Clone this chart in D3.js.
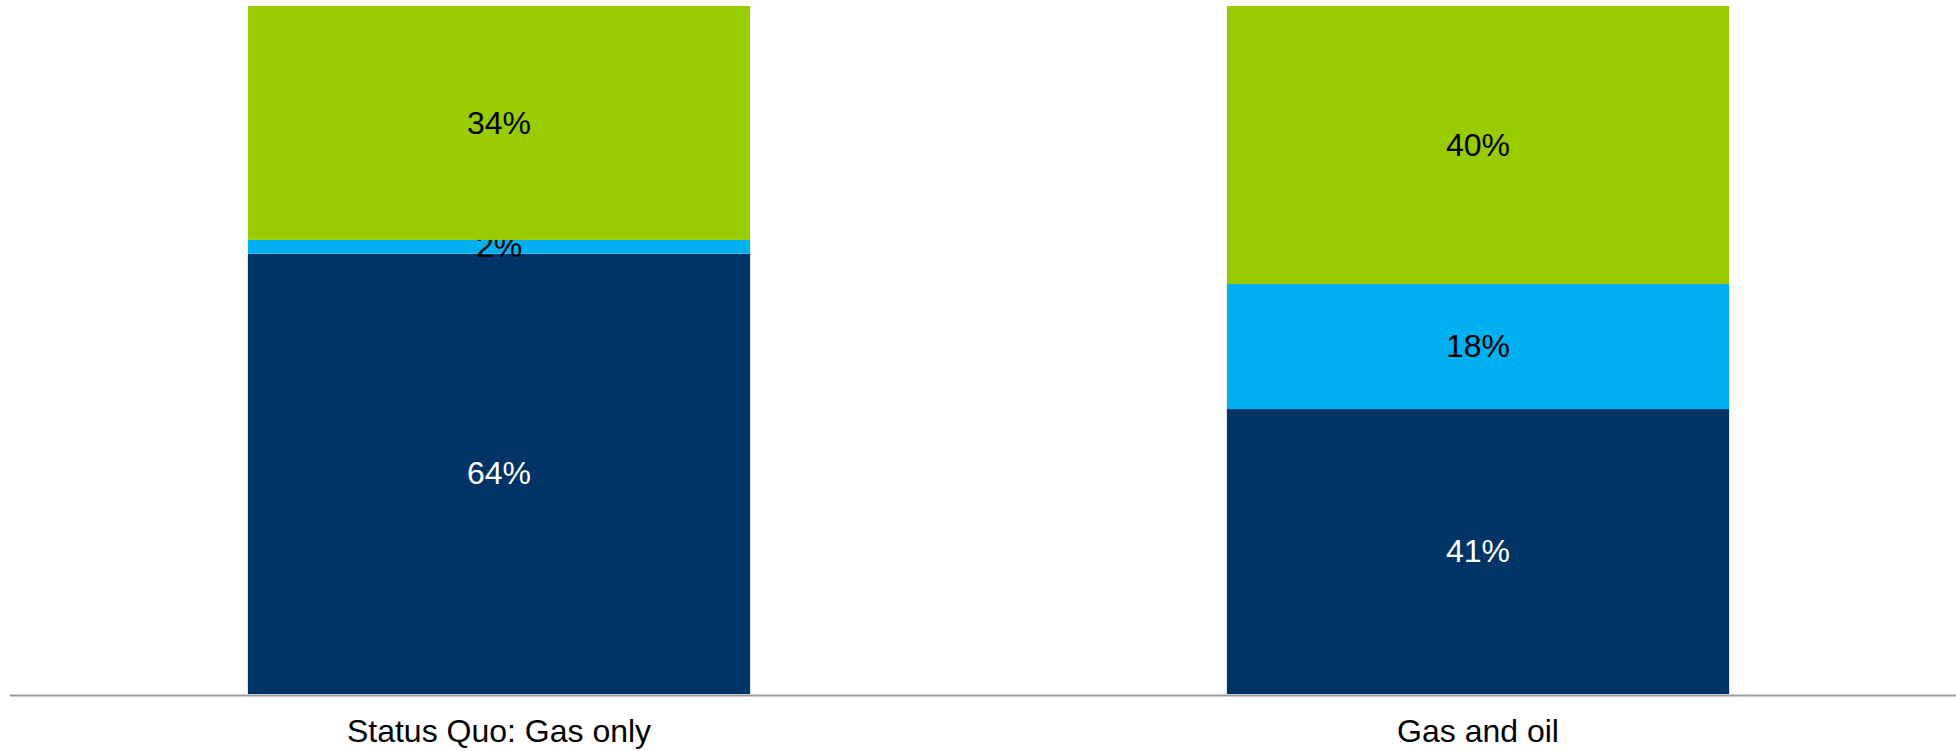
<!DOCTYPE html>
<html>
<head>
<meta charset="utf-8">
<script src="https://cdn.jsdelivr.net/npm/d3@7/dist/d3.min.js"></script>
<style>
  html, body { margin: 0; padding: 0; background: #ffffff; }
  svg { display: block; }
  text { font-family: "Liberation Sans", Arial, sans-serif; }
</style>
</head>
<body>
<svg id="chart" width="1956" height="751"></svg>
<script>
// Scenario categories
const categories = ["Status Quo: Gas only", "Gas and oil"];
// Stacked shares (bottom to top), in percent
const seriesNames = ["Bottom", "Middle", "Top"];
const bottomValues = [64, 41];
const middleValues = [2, 18];
const topValues = [34, 40];
const seriesColors = ["#003366", "#00B0F0", "#99CC00"];
const labelColors = ["#ffffff", "#000000", "#000000"];

const W = 1956, H = 751;
const svg = d3.select("#chart");

const rows = categories.map((c, i) => ({
  category: c,
  Bottom: bottomValues[i],
  Middle: middleValues[i],
  Top: topValues[i]
}));

// 100% stacked layout
const stack = d3.stack().keys(seriesNames).offset(d3.stackOffsetExpand);
const layers = stack(rows);

const x = d3.scaleBand()
  .domain(categories)
  .range([9.5, 1967.5])
  .paddingInner(0.487)
  .paddingOuter(0.2435);

const y = d3.scaleLinear().domain([0, 1]).range([694, 6]);

const g = svg.append("g");

layers.forEach((layer, li) => {
  const lg = g.append("g");
  lg.selectAll("rect")
    .data(layer)
    .join("rect")
    .attr("x", d => x(d.data.category))
    .attr("width", x.bandwidth())
    .attr("y", d => y(d[1]))
    .attr("height", d => y(d[0]) - y(d[1]))
    .attr("fill", seriesColors[li]);

  lg.selectAll("text")
    .data(layer)
    .join("text")
    .attr("x", d => x(d.data.category) + x.bandwidth() / 2)
    .attr("y", d => (y(d[0]) + y(d[1])) / 2)
    .attr("dy", "0.33em")
    .attr("text-anchor", "middle")
    .attr("font-size", 32)
    .attr("fill", labelColors[li])
    .text(d => d.data[seriesNames[li]] + "%");
});

// Category axis
const axis = d3.axisBottom(x).tickSize(0).tickPadding(0);
const ax = svg.append("g").attr("transform", "translate(0,695)").call(axis);
ax.select(".domain").remove();
ax.selectAll(".tick text")
  .attr("font-family", "\"Liberation Sans\", Arial, sans-serif")
  .attr("font-size", 32)
  .attr("fill", "#000")
  .attr("dy", null)
  .attr("y", 47);

svg.append("line")
  .attr("x1", 10).attr("x2", W)
  .attr("y1", 695.5).attr("y2", 695.5)
  .attr("stroke", "#999999")
  .attr("stroke-width", 2);
</script>
</body>
</html>
